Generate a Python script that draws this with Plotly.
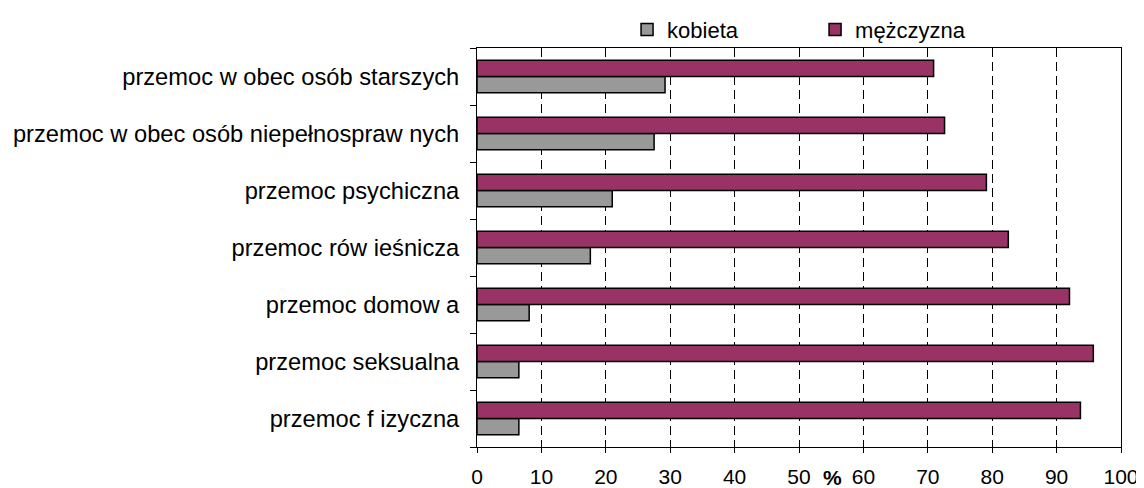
import plotly.graph_objects as go

# categories listed bottom -> top
categories = [
    "przemoc f izyczna",
    "przemoc seksualna",
    "przemoc domow a",
    "przemoc rów ieśnicza",
    "przemoc psychiczna",
    "przemoc w obec osób niepełnospraw nych",
    "przemoc w obec osób starszych",
]
kobieta = [6.5, 6.5, 8.1, 17.6, 21.0, 27.5, 29.2]
mezczyzna = [93.7, 95.7, 92.0, 82.5, 79.1, 72.6, 70.9]
x_ticks = [0, 10, 20, 30, 40, 50, 60, 70, 80, 90, 100]

FONT = "Liberation Sans, Arial, sans-serif"

fig = go.Figure()
fig.add_trace(go.Bar(
    y=categories, x=kobieta, orientation="h", name="kobieta",
    marker=dict(color="#999999", line=dict(color="#000000", width=1.5)),
))
fig.add_trace(go.Bar(
    y=categories, x=mezczyzna, orientation="h", name="mężczyzna",
    marker=dict(color="#993366", line=dict(color="#000000", width=1.5)),
))

# the page body has an 8px margin (left/top), so the figure is 8px smaller than the window
fig.update_layout(
    width=1136, height=480,
    margin=dict(l=469, r=23, t=40, b=41, autoexpand=False),
    paper_bgcolor="white", plot_bgcolor="white",
    barmode="group", bargap=0.43, bargroupgap=0,
    font=dict(family=FONT, size=22, color="#000000"),
    showlegend=True,
    legend=dict(
        orientation="h", x=0.233, y=1.046, xanchor="left", yanchor="middle",
        font=dict(size=22), entrywidth=143, entrywidthmode="pixels",
        bgcolor="rgba(0,0,0,0)",
    ),
    xaxis=dict(
        range=[0, 100], tickvals=x_ticks, ticks="outside", ticklen=5,
        tickcolor="#000000", showline=True, linecolor="#000000", linewidth=1,
        mirror=True, showgrid=True, gridcolor="#000000", gridwidth=1,
        griddash="9px,5px", zeroline=False, tickfont=dict(size=21),
        ticklabelstandoff=6, ticklabeloverflow="allow", automargin=False,
    ),
    yaxis=dict(
        categoryorder="array", categoryarray=categories,
        ticks="outside", ticklen=6, tickson="boundaries", tickcolor="#000000",
        showline=True, linecolor="#000000", linewidth=1, mirror=True,
        showgrid=False, tickfont=dict(size=23.7), ticklabelstandoff=12,
        automargin=False,
    ),
)

fig.add_annotation(
    text="<b>%</b>", x=55.2, y=0, xref="x", yref="paper",
    xanchor="center", yanchor="top", yshift=-17,
    showarrow=False, font=dict(size=21, family=FONT),
)

fig.write_html("out.html")
